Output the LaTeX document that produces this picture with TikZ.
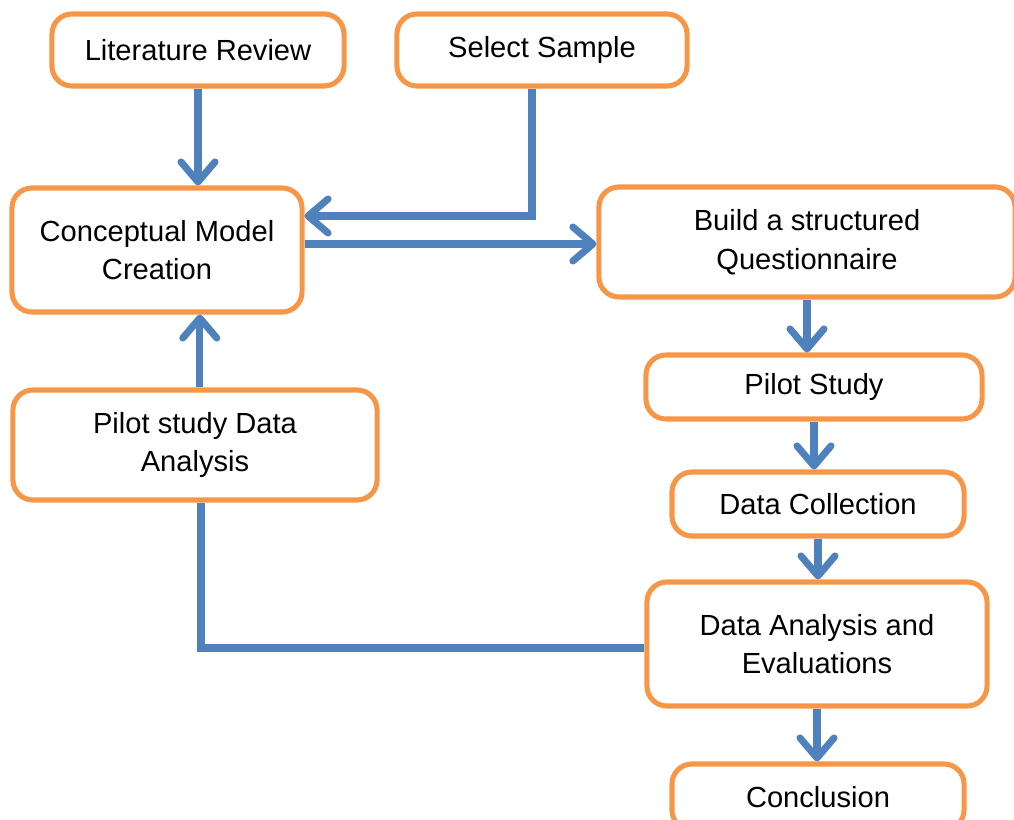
\documentclass[tikz,border=0pt]{standalone}
\usepackage{fontspec}
\setmainfont{Liberation Sans}
\usetikzlibrary{arrows.meta}
\definecolor{boxorange}{HTML}{F79646}
\definecolor{flowblue}{HTML}{4F81BD}
\begin{document}
\begin{tikzpicture}[x=0.025cm, y=-0.025cm,
            box/.style={draw=boxorange, line width=3.6pt, rounded corners=0.5cm, rectangle, align=center,
                font=\fontsize{20.7}{27.5}\selectfont, inner sep=0pt},
            flow/.style={draw=flowblue, line width=5pt},
            arr/.style={flow, -{Straight Barb[round, length=0.5cm, width=0.85cm]}}]
            \useasboundingbox (0,0) rectangle (1014,820);

            \node[box, minimum width=7.3cm, minimum height=1.8cm] (literature) at (198,50) {Literature Review};
            \node[box, minimum width=7.25cm, minimum height=1.8cm] (sample) at (542,50) {Select Sample};
            \node[box, minimum width=7.25cm, minimum height=3.1cm] (concept) at (157,250) {Conceptual Model\\Creation};
            \node[box, minimum width=10.4cm, minimum height=2.75cm] (questionnaire) at (807,242) {Build a structured\\Questionnaire};
            \node[box, minimum width=8.4cm, minimum height=1.6cm] (pilot) at (814,387) {Pilot Study};
            \node[box, minimum width=9.1cm, minimum height=2.75cm] (pilotanalysis) at (195,445) {Pilot study Data\\Analysis};
            \node[box, minimum width=7.3cm, minimum height=1.6cm] (collection) at (818,504) {Data Collection};
            \node[box, minimum width=8.5cm, minimum height=3.1cm] (analysis) at (817,644) {Data Analysis and\\Evaluations};
            \node[box, minimum width=7.3cm, minimum height=1.65cm] (conclusion) at (818,797) {Conclusion};

            \draw[arr] (literature.south) -- (literature.south |- concept.north);
            \draw[arr] ([xshift=-0.25cm]sample.south) |- ([yshift=0.85cm]concept.east);
            \draw[arr] ([yshift=0.15cm]concept.east) -- ([yshift=0.15cm]concept.east -| questionnaire.west);
            \draw[arr] ([xshift=0.12cm]pilotanalysis.north) -- ([xshift=0.12cm]pilotanalysis.north |- concept.south);
            \draw[arr] (questionnaire.south) -- (questionnaire.south |- pilot.north);
            \draw[arr] (pilot.south) -- (pilot.south |- collection.north);
            \draw[arr] (collection.south) -- (collection.south |- analysis.north);
            \draw[arr] (analysis.south) -- (analysis.south |- conclusion.north);
            \draw[flow] ([yshift=-0.1cm]analysis.west) -| ([xshift=0.15cm]pilotanalysis.south);
\end{tikzpicture}
\end{document}
